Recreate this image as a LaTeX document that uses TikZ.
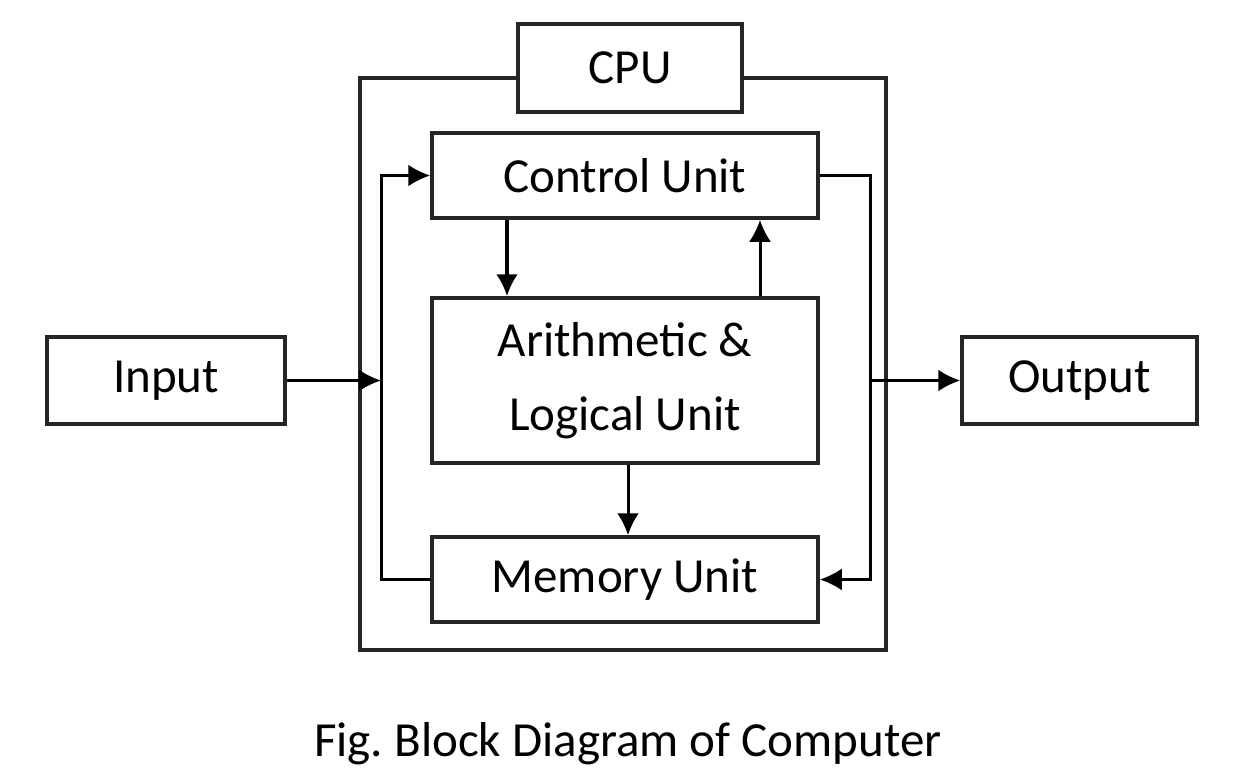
\documentclass[tikz,border=0pt]{standalone}
\usepackage{fontspec}
\setmainfont{Carlito}
\usetikzlibrary{arrows.meta}
\begin{document}
\begin{tikzpicture}[x=1pt,y=-1pt,
  blk/.style={draw=black!85,line width=3.5pt,fill=white,inner sep=0pt,
    font=\fontsize{49}{74}\selectfont,align=center},
  conn/.style={draw=black,line width=3pt},
  arr/.style={conn,-{Latex[length=22pt,width=22pt]}},
  frame/.style={draw=black!85,line width=3.5pt}]
\useasboundingbox (0,0) rectangle (1239,781);
\fill[white] (0,0) rectangle (1239,781);
% nodes
\node[blk,minimum width=224pt,minimum height=88pt] (cpu) at (630,68) {CPU};
\node[blk,minimum width=386pt,minimum height=85pt] (cu) at (625,175.5) {Control Unit};
\node[blk,minimum width=386pt,minimum height=165pt] (alu) at (625,380.5) {Arithmetic \&\\Logical Unit};
\node[blk,minimum width=386pt,minimum height=85pt] (mem) at (625,579.5) {Memory Unit};
\node[blk,minimum width=238pt,minimum height=87pt] (in) at (166,380.5) {Input};
\node[blk,minimum width=235pt,minimum height=87pt] (out) at (1079.5,380.5) {Output};
\node[font=\fontsize{49}{58}\selectfont] (cap) at (628,744) {Fig.\ Block Diagram of Computer};
% helper coordinates
\coordinate (fTL) at (360,78);
\coordinate (fBR) at (886,650);
\coordinate (lx) at (381,0);
\coordinate (rx) at (870,0);
\coordinate (a1) at (507,0);
\coordinate (a2) at (760,0);
\coordinate (a3) at (628,0);
% CPU frame
\draw[frame] (cpu.west |- fTL) -- (fTL) |- (fBR) |- (cpu.east |- fTL);
% loops
\draw[arr] (mem.west) -| (lx |- cu.west) -- (cu.west);
\draw[arr] (cu.east) -| (rx |- mem.east) -- (mem.east);
% input / output
\draw[arr] (in.east) -- (lx |- in.east);
\draw[arr] (rx |- out.west) -- (out.west);
% vertical arrows
\draw[arr,line width=4pt] (cu.south -| a1) -- (alu.north -| a1);
\draw[arr] (alu.north -| a2) -- (cu.south -| a2);
\draw[arr] (alu.south -| a3) -- (mem.north -| a3);
\end{tikzpicture}
\end{document}
